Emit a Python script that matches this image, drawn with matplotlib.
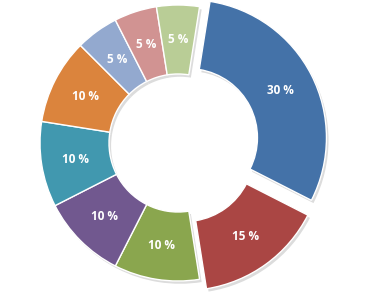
import matplotlib
matplotlib.use('Agg')
import matplotlib.pyplot as plt

# slice data, clockwise from the top-right
shares  = [30, 15, 10, 10, 10, 10, 5, 5, 5]
colours = ['#4472A8', '#AA4644', '#8AA64E', '#71588F', '#4198AF',
           '#DB843D', '#93A9CF', '#D19392', '#B9CD96']
explode = [0.085, 0.085, 0, 0, 0, 0, 0, 0, 0]

R_PX   = 138          # outer radius in pixels
CX, CY = 178, 143     # centre in image pixels (y from top)
W, H   = 366, 303

fig = plt.figure(figsize=(W / 100, H / 100), dpi=100)
ax = fig.add_axes([0, 0, 1, 1])

ring = dict(width=0.5, edgecolor='white', linewidth=1.0)

# soft grey drop shadow under the ring
ax.pie(shares, explode=explode, startangle=81, counterclock=False,
       colors=['#dcdcdc'] * len(shares), center=(0.015, -0.02),
       wedgeprops=dict(width=0.5, linewidth=0))

ax.pie(shares, explode=explode, startangle=81, counterclock=False,
       colors=colours, wedgeprops=ring,
       autopct=lambda p: f'{p:.0f} %', pctdistance=0.75,
       textprops=dict(color='white', fontsize=8.5, fontweight='bold',
                      family='Open Sans'))

ax.set_xlim(-CX / R_PX, (W - CX) / R_PX)
ax.set_ylim(-(H - CY) / R_PX, CY / R_PX)
ax.axis('off')

fig.savefig('out.png', dpi=100)
